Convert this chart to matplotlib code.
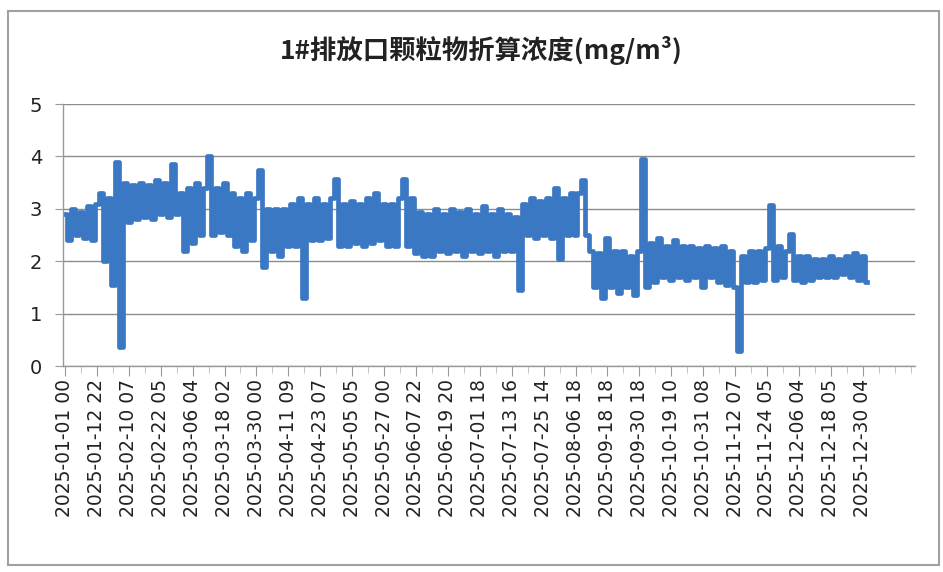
import numpy as np
import matplotlib
matplotlib.use("Agg")
import matplotlib.pyplot as plt
from matplotlib.patches import Rectangle

plt.rcParams['font.family'] = ['Noto Sans CJK SC', 'DejaVu Sans']

#---------------------------------------------------------- data
title = "1#排放口颗粒物折算浓度(mg/m³)"

tick_labels = ["2025-01-01 00", "2025-01-12 22", "2025-02-10 07", "2025-02-22 05",
               "2025-03-06 04", "2025-03-18 02", "2025-03-30 00", "2025-04-11 09",
               "2025-04-23 07", "2025-05-05 05", "2025-05-27 00", "2025-06-07 22",
               "2025-06-19 20", "2025-07-01 18", "2025-07-13 16", "2025-07-25 14",
               "2025-08-06 18", "2025-09-18 18", "2025-09-30 18", "2025-10-19 10",
               "2025-10-31 08", "2025-11-12 07", "2025-11-24 05", "2025-12-06 04",
               "2025-12-18 05", "2025-12-30 04"]

# concentration, sampled along the category axis (8 samples between labels)
conc = [2.9, 2.4, 3.0, 2.5, 2.95, 2.45, 3.05, 2.4, 3.1, 3.3,
        2.0, 3.2, 1.55, 3.9, 0.37, 3.5, 2.75, 3.45, 2.8, 3.5,
        2.85, 3.45, 2.8, 3.55, 2.9, 3.5, 2.85, 3.85, 2.9, 3.3,
        2.2, 3.4, 2.35, 3.5, 2.5, 3.4, 4.0, 2.5, 3.4, 2.55,
        3.5, 2.5, 3.3, 2.3, 3.2, 2.2, 3.3, 2.4, 3.2, 3.75,
        1.9, 3.0, 2.2, 3.0, 2.1, 3.0, 2.3, 3.1, 2.3, 3.2,
        1.3, 3.1, 2.4, 3.2, 2.4, 3.1, 2.45, 3.2, 3.58, 2.3,
        3.1, 2.3, 3.15, 2.35, 3.1, 2.3, 3.2, 2.35, 3.3, 2.4,
        3.1, 2.3, 3.1, 2.3, 3.2, 3.58, 2.3, 3.2, 2.15, 2.95,
        2.1, 2.9, 2.1, 3.0, 2.2, 2.9, 2.15, 3.0, 2.2, 2.95,
        2.1, 3.0, 2.2, 2.9, 2.15, 3.05, 2.2, 2.9, 2.1, 3.0,
        2.2, 2.9, 2.2, 2.85, 1.45, 3.1, 2.5, 3.2, 2.45, 3.15,
        2.5, 3.2, 2.45, 3.4, 2.05, 3.2, 2.5, 3.3, 2.5, 3.3,
        3.55, 2.5, 2.2, 1.5, 2.15, 1.3, 2.45, 1.5, 2.2, 1.4,
        2.2, 1.5, 2.1, 1.35, 2.2, 3.95, 1.5, 2.35, 1.6, 2.45,
        1.7, 2.3, 1.65, 2.4, 1.7, 2.3, 1.65, 2.3, 1.7, 2.25,
        1.5, 2.3, 1.7, 2.25, 1.6, 2.3, 1.55, 2.2, 1.5, 0.28,
        2.1, 1.6, 2.2, 1.6, 2.2, 1.65, 2.25, 3.07, 1.65, 2.3,
        1.7, 2.2, 2.53, 1.65, 2.1, 1.6, 2.1, 1.65, 2.05, 1.7,
        2.05, 1.7, 2.1, 1.7, 2.05, 1.75, 2.1, 1.7, 2.15, 1.65,
        2.1, 1.6]

label_step = 8
n_axis     = 213

#---------------------------------------------------------- plotting
fig = plt.figure(figsize=(9.43, 5.72), dpi=100)
ax  = fig.add_axes([0.0668, 0.360, 0.903, 0.458])

fig.patches.append(Rectangle((0.008, 0.012), 0.988, 0.968, transform=fig.transFigure,
                             fill=False, edgecolor="#a0a0a0", lw=1.5))

x = np.arange(len(conc))
# dense hourly line -> drawn as a solid band of steps
ax.plot(x, conc, lw=3.4, c="#3b78c4", drawstyle="steps-mid")

ax.set_xlim(-0.5, n_axis)
ax.set_ylim(0, 5)
ax.set_yticks(range(6))
ax.grid(axis="y", color="#8c8c8c", lw=1.0)
ax.set_axisbelow(True)

ax.set_xticks(np.arange(len(tick_labels)) * label_step)
ax.set_xticklabels(tick_labels, rotation=90, fontsize=13.5, color="#222222",
                   family="DejaVu Sans")
ax.set_xticks(np.arange(0, n_axis, 4), minor=True)
ax.tick_params(axis="x", which="major", length=7, color="#999999", pad=2)
ax.tick_params(axis="x", which="minor", length=5, color="#bbbbbb")
ax.tick_params(axis="y", length=6, color="#999999", labelsize=14, labelcolor="#222222", pad=9)
for t in ax.get_yticklabels():
    t.set_family("DejaVu Sans")

for s in ["top", "right"]:
    ax.spines[s].set_visible(False)
for s in ["left", "bottom"]:
    ax.spines[s].set_color("#999999")
    ax.spines[s].set_linewidth(1.0)

fig.text(0.51, 0.912, title, ha="center", va="center", fontsize=19, fontweight="bold",
         color="#222222")

plt.savefig("out.png", dpi=100)
